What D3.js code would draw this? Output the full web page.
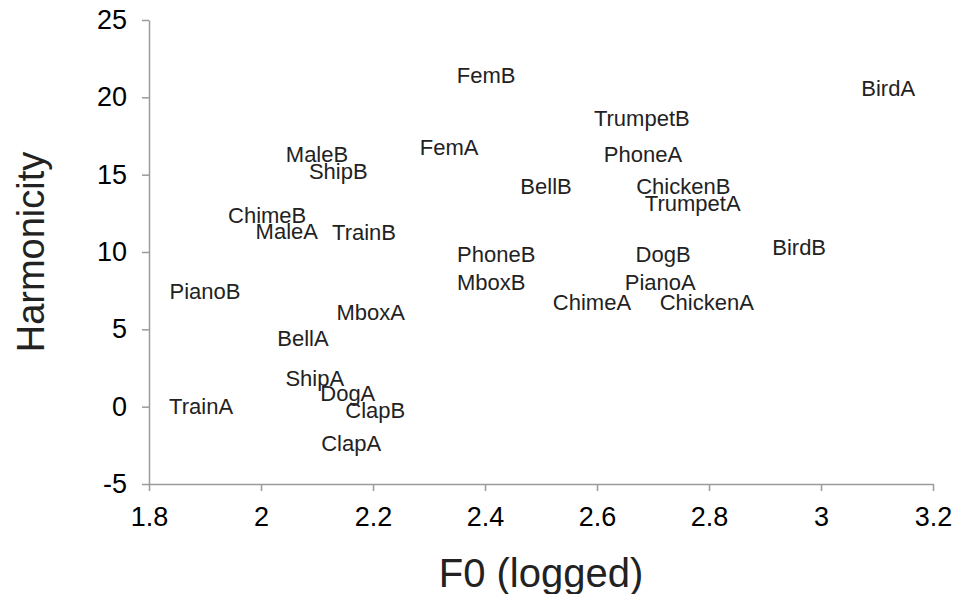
<!DOCTYPE html>
<html>
<head>
<meta charset="utf-8">
<script src="https://cdn.jsdelivr.net/npm/d3@7"></script>
<style>
  body { margin: 0; background: #fff; }
  text { font-family: "Liberation Sans", Arial, Helvetica, sans-serif; }
</style>
</head>
<body>
<svg id="chart" width="955" height="594"></svg>
<script>
// sound labels, log F0 and harmonicity
const names = ['FemB', 'TrumpetB', 'FemA', 'PhoneA', 'BellB', 'ChickenB', 'TrumpetA',
    'BirdA', 'BirdB', 'DogB', 'PianoA', 'ChickenA', 'ChimeA', 'PhoneB', 'MboxB', 'MboxA',
    'MaleB', 'ShipB', 'ChimeB', 'MaleA', 'TrainB', 'PianoB', 'BellA', 'ShipA', 'DogA',
    'ClapB', 'TrainA', 'ClapA']
const f0 = [2.402, 2.680, 2.336, 2.682, 2.509, 2.754, 2.771,
    3.120, 2.961, 2.718, 2.713, 2.796, 2.591, 2.420, 2.411, 2.196,
    2.100, 2.138, 2.011, 2.046, 2.184, 1.900, 2.075, 2.096, 2.155,
    2.204, 1.893, 2.161]
const harmonicity = [21.44, 18.67, 16.79, 16.34, 14.27, 14.27, 13.17,
    20.60, 10.33, 9.87, 8.06, 6.77, 6.77, 9.87, 8.06, 6.12,
    16.34, 15.24, 12.39, 11.36, 11.30, 7.48, 4.44, 1.86, 0.89,
    -0.21, 0.05, -2.34]

const xTicks = [1.8, 2, 2.2, 2.4, 2.6, 2.8, 3, 3.2]
const yTicks = [-5, 0, 5, 10, 15, 20, 25]

const axisColor = '#9a9a9a'

const svg = d3.select('#chart')

const x = d3.scaleLinear().domain([1.8, 3.2]).range([149, 933])
const y = d3.scaleLinear().domain([-5, 25]).range([484, 20])

// Axes (plain hyphen for negatives, like the original)
const plain = d => String(d)
const xAxis = svg.append('g')
    .attr('transform', `translate(0, ${y(-5)})`)
    .call(d3.axisBottom(x).tickValues(xTicks).tickFormat(plain).tickSize(7).tickSizeOuter(0).tickPadding(16))
const yAxis = svg.append('g')
    .attr('transform', `translate(${x(1.8)}, 0)`)
    .call(d3.axisLeft(y).tickValues(yTicks).tickFormat(plain).tickSize(7).tickSizeOuter(0).tickPadding(15))

for (const g of [xAxis, yAxis]) {
    g.select('.domain').attr('stroke', axisColor).attr('stroke-width', 1.5)
    g.selectAll('.tick line').attr('stroke', axisColor).attr('stroke-width', 1.5)
    g.selectAll('.tick text')
        .attr('fill', '#000')
        .style('font-size', '27px')
}

// Labels (markers hidden, text centred on the point)
svg.append('g').selectAll('text')
    .data(names)
    .enter().append('text')
    .attr('x', (d, i) => x(f0[i]))
    .attr('y', (d, i) => y(harmonicity[i]))
    .attr('dy', '0.36em')
    .attr('text-anchor', 'middle')
    .attr('fill', '#222')
    .style('font-size', '22px')
    .text(d => d)

// Axis titles
svg.append('text')
    .attr('x', (x.range()[0] + x.range()[1]) / 2)
    .attr('y', 587)
    .attr('text-anchor', 'middle')
    .style('font-size', '40px')
    .attr('fill', '#222')
    .text('F0 (logged)')

svg.append('text')
    .attr('transform', `translate(44, ${(y.range()[0] + y.range()[1]) / 2}) rotate(-90)`)
    .attr('text-anchor', 'middle')
    .style('font-size', '38px')
    .attr('fill', '#222')
    .text('Harmonicity')
</script>
</body>
</html>
